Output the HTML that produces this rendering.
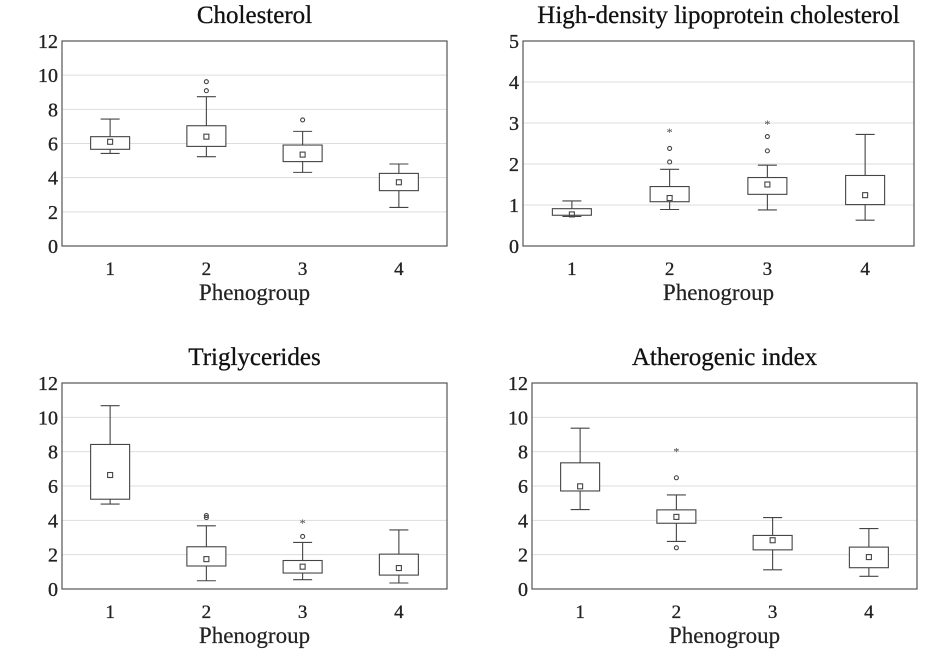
<!DOCTYPE html>
<html><head><meta charset="utf-8"><style>
html,body{margin:0;padding:0;background:#fff;}
svg{display:block;font-family:"Liberation Serif",serif;}
</style></head><body>
<svg id="chart" width="942" height="656" viewBox="0 0 942 656"></svg>
<script>
const groups = ["1","2","3","4"];
// [whiskerLow, q1, q3, whiskerHigh, mean]
const cholStats = [[5.42,5.66,6.4,7.43,6.1],[5.23,5.83,7.04,8.74,6.4],[4.31,4.94,5.91,6.71,5.35],[2.26,3.24,4.25,4.8,3.73]];
const cholOutliers = [[],[9.09,9.62],[7.38],[]];
const cholExtremes = [[],[],[],[]];
const hdlStats = [[0.72,0.75,0.91,1.10,0.77],[0.89,1.08,1.45,1.87,1.17],[0.88,1.26,1.67,1.97,1.50],[0.63,1.01,1.72,2.72,1.24]];
const hdlOutliers = [[],[2.05,2.38],[2.32,2.67],[]];
const hdlExtremes = [[],[2.8],[3.0],[]];
const trigStats = [[4.95,5.23,8.42,10.68,6.64],[0.48,1.34,2.46,3.68,1.74],[0.54,0.93,1.66,2.71,1.30],[0.35,0.81,2.03,3.44,1.22]];
const trigOutliers = [[],[4.16,4.28],[3.06],[]];
const trigExtremes = [[],[],[3.91],[]];
const athStats = [[4.63,5.71,7.35,9.37,5.98],[2.77,3.83,4.61,5.48,4.2],[1.12,2.28,3.12,4.16,2.84],[0.74,1.24,2.44,3.52,1.86]];
const athOutliers = [[],[2.4,6.48],[],[]];
const athExtremes = [[],[8.07],[],[]];
const ticks12 = [0,2,4,6,8,10,12];
const ticks5 = [0,1,2,3,4,5];

const NS="http://www.w3.org/2000/svg";
const svg=document.getElementById('chart');
function mk(tag,attrs,parent){const e=document.createElementNS(NS,tag);for(const k in attrs)e.setAttribute(k,attrs[k]);(parent||svg).appendChild(e);return e;}

function panel(opt){
  const g=mk('g',{});
  
  
  const L=opt.x0,R=opt.x1,T=opt.y0,B=opt.y1,max=opt.max;
  const y=v=>B-(v/max)*(B-T);
  const bw=(R-L)/groups.length;
  const x=i=>L+bw*(i+0.5);
  const t=mk('text',{x:(L+R)/2,y:T-18,'text-anchor':'middle','font-size':25,fill:'#111','stroke':'#111','stroke-width':0.3},g);
  t.textContent=opt.title;
  
  
  opt.ticks.forEach(v=>{
    if(v>0&&v<max){const gl=mk('line',{x1:L,x2:R,y1:y(v),y2:y(v),stroke:'#ddd','stroke-width':1},g);
      
      }
    const tl=mk('text',{x:L-4,y:y(v)+7,'text-anchor':'end','font-size':20,fill:'#222','stroke':'#222','stroke-width':0.3},g);
    tl.textContent=v;
    
    
  });
  const fr=mk('rect',{x:L,y:T,width:R-L,height:B-T,fill:'none',stroke:'#555','stroke-width':1.2},g);
  
  
  groups.forEach((gname,i)=>{
    const s=opt.stats[i],cx=x(i),hw=19.5,cw=9.5;
    const bg=mk('g',{stroke:'#444','stroke-width':1.1,fill:'none'},g);
    
    
    mk('line',{x1:cx,x2:cx,y1:y(s[0]),y2:y(s[1])},bg);
    mk('line',{x1:cx,x2:cx,y1:y(s[2]),y2:y(s[3])},bg);
    mk('line',{x1:cx-cw,x2:cx+cw,y1:y(s[0]),y2:y(s[0])},bg);
    mk('line',{x1:cx-cw,x2:cx+cw,y1:y(s[3]),y2:y(s[3])},bg);
    mk('rect',{x:cx-hw,y:y(s[2]),width:2*hw,height:y(s[1])-y(s[2]),fill:'#fff'},bg);
    mk('rect',{x:cx-2.5,y:y(s[4])-2.5,width:5,height:5},bg);
    opt.outliers[i].forEach(v=>{const c=mk('circle',{cx:cx,cy:y(v),r:2},bg);
      
      });
    opt.extremes[i].forEach(v=>{const st=mk('text',{x:cx,y:y(v)+5,'text-anchor':'middle','font-size':12,fill:'#444',stroke:'none'},bg);
      st.textContent='*';
      
      });
    const xl=mk('text',{x:cx,y:B+29,'text-anchor':'middle','font-size':19,fill:'#222','stroke':'#222','stroke-width':0.3},g);
    xl.textContent=gname;
    
    
  });
  const xt=mk('text',{x:(L+R)/2,y:B+54,'text-anchor':'middle','font-size':23,fill:'#222','stroke':'#222','stroke-width':0.2},g);
  xt.textContent='Phenogroup';
  
  
}
panel({name:'cholesterol-panel',title:'Cholesterol',x0:62,x1:447,y0:41,y1:246,max:12,ticks:ticks12,stats:cholStats,outliers:cholOutliers,extremes:cholExtremes});
panel({name:'hdl-panel',title:'High-density lipoprotein cholesterol',x0:523,x1:914,y0:41,y1:246,max:5,ticks:ticks5,stats:hdlStats,outliers:hdlOutliers,extremes:hdlExtremes});
panel({name:'triglycerides-panel',title:'Triglycerides',x0:62,x1:447,y0:383,y1:589,max:12,ticks:ticks12,stats:trigStats,outliers:trigOutliers,extremes:trigExtremes});
panel({name:'atherogenic-index-panel',title:'Atherogenic index',x0:532,x1:917,y0:383,y1:589,max:12,ticks:ticks12,stats:athStats,outliers:athOutliers,extremes:athExtremes});
</script>
</body></html>
